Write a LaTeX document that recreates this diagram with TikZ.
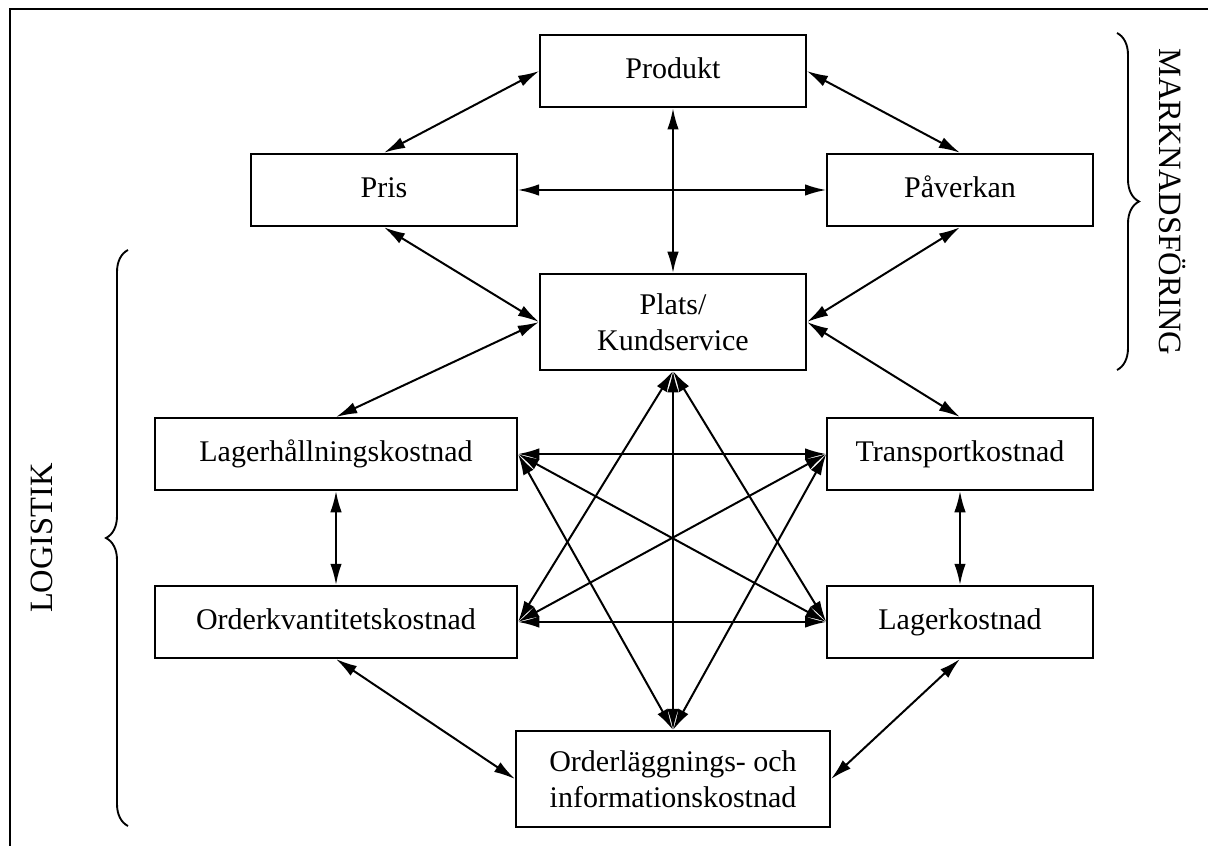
\documentclass[tikz,border=0pt]{standalone}
\usepackage{fontspec}
\setmainfont{Liberation Serif}
\usepackage{tikz}
\usetikzlibrary{arrows.meta,decorations.pathreplacing}

\tikzset{
  ruta/.style={draw, line width=0.8pt, inner sep=2pt, align=center,
    font=\fontsize{12}{14.5}\selectfont},
  enrad/.style={text height=1.6ex, text depth=0.3ex},
  bred/.style={enrad, minimum width=144.8pt, minimum height=28.8pt},
  smal/.style={enrad, minimum width=106.2pt, minimum height=29pt},
  pil/.style={{Latex[length=8.5pt,width=4.6pt]}-{Latex[length=8.5pt,width=4.6pt]}, line width=0.8pt},
  klammer/.style={decorate, decoration={brace, amplitude=8.8pt}, line width=0.75pt},
  rubrik/.style={font=\fontsize{13}{15}\selectfont, inner sep=0pt}
}

\begin{document}
\begin{tikzpicture}[x=0.4pt, y=-0.4pt]
        \useasboundingbox (0,0) rectangle (1208,846);
        % Ram
        \draw[line width=0.9pt] (10,846) -- (10,9) -- (1208,9);

        % Marknadsforing
        \node[ruta, smal] (produkt) at (673,71) {Produkt};
        \node[ruta, smal] (pris) at (384,190) {Pris};
        \node[ruta, smal] (paverkan) at (960,190) {Påverkan};
        \node[ruta, minimum width=106.4pt, minimum height=38.4pt] (plats) at (673,322) {Plats/\\Kundservice};

        % Logistik
        \node[ruta, bred] (lagerh) at (336,454) {Lagerhållningskostnad};
        \node[ruta, smal, minimum height=28.8pt] (transport) at (960,454) {Transportkostnad};
        \node[ruta, bred] (orderkv) at (336,622) {Orderkvantitetskostnad};
        \node[ruta, smal, minimum height=28.8pt] (lagerk) at (960,622) {Lagerkostnad};
        \node[ruta, minimum width=125.6pt, minimum height=38.4pt] (orderl) at (673,779) {Orderläggnings- och\\informationskostnad};

        % Pilar
        \foreach \a/\b in {produkt.west/pris.north, produkt.east/paverkan.north,
                           produkt.south/plats.north, pris.east/paverkan.west,
                           pris.south/plats.west, paverkan.south/plats.east,
                           plats.west/lagerh.north, plats.east/transport.north,
                           plats.south/orderl.north, plats.south/orderkv.east,
                           plats.south/lagerk.west, lagerh.east/transport.west,
                           lagerh.east/lagerk.west, lagerh.east/orderl.north,
                           transport.west/orderkv.east, transport.west/orderl.north,
                           orderkv.east/lagerk.west, lagerh.south/orderkv.north,
                           transport.south/lagerk.north, orderkv.south/orderl.west,
                           lagerk.south/orderl.east}
            \draw[pil] (\a) -- (\b);

        % Klammer och rubriker
        \coordinate (mtopp) at (1117,33);
        \coordinate (mbott) at (1117,370);
        \draw[klammer] (mtopp) -- (mbott);
        \node[rubrik, rotate=-90] (mark) at (1172,202) {MARKNADSFÖRING};

        \coordinate (lbott) at (128,826);
        \coordinate (ltopp) at (128,250);
        \draw[klammer] (lbott) -- (ltopp);
        \node[rubrik, rotate=90] (logi) at (42,538) {LOGISTIK};
\end{tikzpicture}
\end{document}
